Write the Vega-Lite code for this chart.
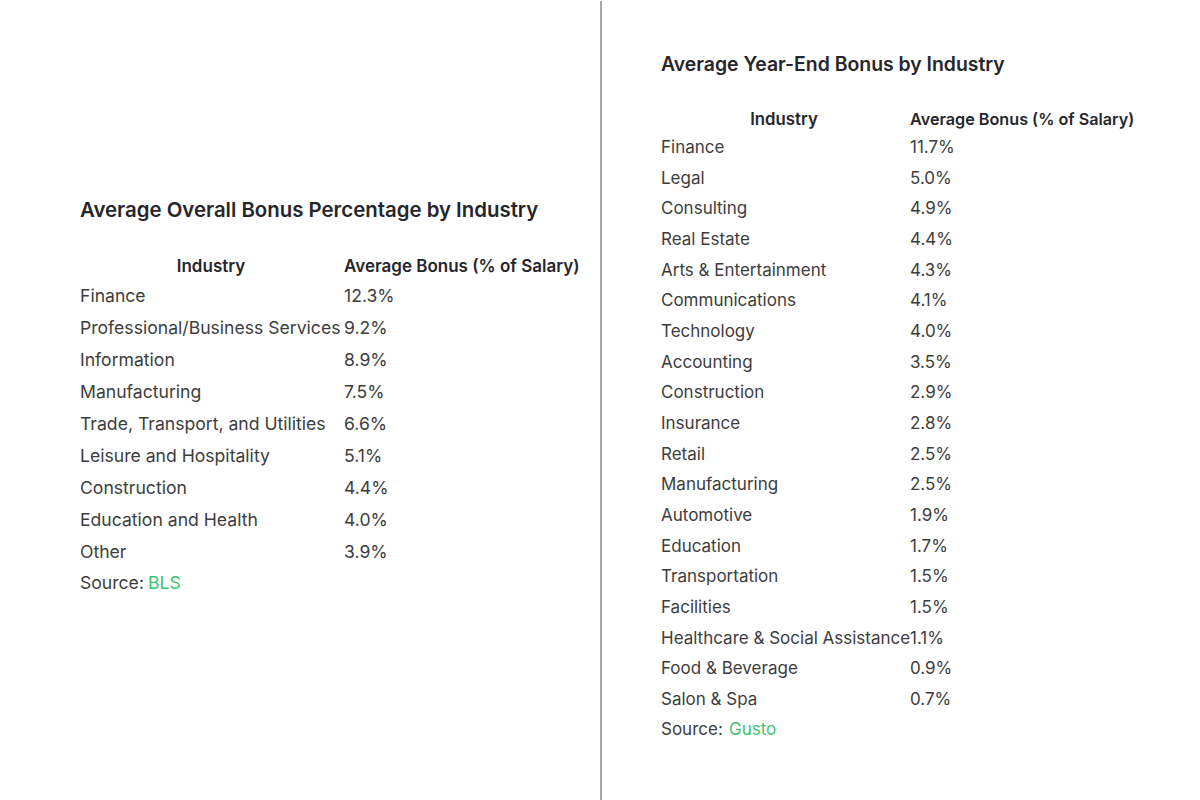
{
  "$schema": "https://vega.github.io/schema/vega-lite/v6.json",
  "padding": 0,
  "spacing": 0,
  "background": "white",
  "config": {"view": {"stroke": null}, "text": {"font": "Inter"}},
  "datasets": {
    "one": [{"id": 1}],
    "bls": [
      {"rank": 1, "industry": "Finance", "bonus": 0.123},
      {"rank": 2, "industry": "Professional/Business Services", "bonus": 0.092},
      {"rank": 3, "industry": "Information", "bonus": 0.089},
      {"rank": 4, "industry": "Manufacturing", "bonus": 0.075},
      {"rank": 5, "industry": "Trade, Transport, and Utilities", "bonus": 0.066},
      {"rank": 6, "industry": "Leisure and Hospitality", "bonus": 0.051},
      {"rank": 7, "industry": "Construction", "bonus": 0.044},
      {"rank": 8, "industry": "Education and Health", "bonus": 0.040},
      {"rank": 9, "industry": "Other", "bonus": 0.039}
    ],
    "gusto": [
      {"rank": 1, "industry": "Finance", "bonus": 0.117},
      {"rank": 2, "industry": "Legal", "bonus": 0.050},
      {"rank": 3, "industry": "Consulting", "bonus": 0.049},
      {"rank": 4, "industry": "Real Estate", "bonus": 0.044},
      {"rank": 5, "industry": "Arts & Entertainment", "bonus": 0.043},
      {"rank": 6, "industry": "Communications", "bonus": 0.041},
      {"rank": 7, "industry": "Technology", "bonus": 0.040},
      {"rank": 8, "industry": "Accounting", "bonus": 0.035},
      {"rank": 9, "industry": "Construction", "bonus": 0.029},
      {"rank": 10, "industry": "Insurance", "bonus": 0.028},
      {"rank": 11, "industry": "Retail", "bonus": 0.025},
      {"rank": 12, "industry": "Manufacturing", "bonus": 0.025},
      {"rank": 13, "industry": "Automotive", "bonus": 0.019},
      {"rank": 14, "industry": "Education", "bonus": 0.017},
      {"rank": 15, "industry": "Transportation", "bonus": 0.015},
      {"rank": 16, "industry": "Facilities", "bonus": 0.015},
      {"rank": 17, "industry": "Healthcare & Social Assistance", "bonus": 0.011},
      {"rank": 18, "industry": "Food & Beverage", "bonus": 0.009},
      {"rank": 19, "industry": "Salon & Spa", "bonus": 0.007}
    ]
  },
  "hconcat": [
    {
      "width": 602,
      "height": 800,
      "layer": [
        {
          "data": {"name": "bls"},
          "mark": {"type": "text", "align": "left", "fontSize": 17.6, "fill": "#3d3d3d"},
          "encoding": {
            "x": {"datum": 80, "type": "quantitative", "axis": null, "scale": {"domain": [0, 602], "nice": false, "zero": false}},
            "y": {"field": "rank", "type": "quantitative", "axis": null,
                  "scale": {"domain": [-8.25, 16.75], "reverse": true, "nice": false, "zero": false}},
            "text": {"field": "industry"}
          }
        },
        {
          "data": {"name": "bls"},
          "mark": {"type": "text", "align": "left", "fontSize": 17.6, "fill": "#3d3d3d"},
          "encoding": {
            "x": {"datum": 344, "type": "quantitative"},
            "y": {"field": "rank", "type": "quantitative"},
            "text": {"field": "bonus", "format": ".1%"}
          }
        },
        {
          "data": {"name": "one"},
          "mark": {"type": "rule", "stroke": "#8a8a8a", "strokeWidth": 1.5},
          "encoding": {
            "x": {"datum": 601, "type": "quantitative"},
            "y": {"datum": -8.25, "type": "quantitative"},
            "y2": {"datum": 16.75}
          }
        },
        {
          "data": {"name": "one"},
          "mark": {"type": "text", "align": "left", "fontSize": 20.4, "fontWeight": 600, "fill": "#26262b"},
          "encoding": {
            "x": {"datum": 80, "type": "quantitative"},
            "y": {"datum": -1.69, "type": "quantitative"},
            "text": {"value": "Average Overall Bonus Percentage by Industry"}
          }
        },
        {
          "data": {"name": "one"},
          "mark": {"type": "text", "align": "center", "fontSize": 17, "fontWeight": 600, "fill": "#26262b"},
          "encoding": {
            "x": {"datum": 211, "type": "quantitative"},
            "y": {"datum": 0.06, "type": "quantitative"},
            "text": {"value": "Industry"}
          }
        },
        {
          "data": {"name": "one"},
          "mark": {"type": "text", "align": "left", "fontSize": 17, "fontWeight": 600, "fill": "#26262b"},
          "encoding": {
            "x": {"datum": 344, "type": "quantitative"},
            "y": {"datum": 0.06, "type": "quantitative"},
            "text": {"value": "Average Bonus (% of Salary)"}
          }
        },
        {
          "data": {"name": "one"},
          "mark": {"type": "text", "align": "left", "fontSize": 17.6, "fill": "#3d3d3d"},
          "encoding": {
            "x": {"datum": 80, "type": "quantitative"},
            "y": {"datum": 9.97, "type": "quantitative"},
            "text": {"value": "Source:"}
          }
        },
        {
          "data": {"name": "one"},
          "mark": {"type": "text", "align": "left", "fontSize": 17.6, "fill": "#3ec46d"},
          "encoding": {
            "x": {"datum": 148, "type": "quantitative"},
            "y": {"datum": 9.97, "type": "quantitative"},
            "text": {"value": "BLS"}
          }
        }
      ]
    },
    {
      "width": 598,
      "height": 800,
      "layer": [
        {
          "data": {"name": "gusto"},
          "mark": {"type": "text", "align": "left", "fontSize": 17, "fill": "#3d3d3d"},
          "encoding": {
            "x": {"datum": 59, "type": "quantitative", "axis": null, "scale": {"domain": [0, 598], "nice": false, "zero": false}},
            "y": {"field": "rank", "type": "quantitative", "axis": null,
                  "scale": {"domain": [-3.7935, 22.2935], "reverse": true, "nice": false, "zero": false}},
            "text": {"field": "industry"}
          }
        },
        {
          "data": {"name": "gusto"},
          "mark": {"type": "text", "align": "left", "fontSize": 17, "fill": "#3d3d3d"},
          "encoding": {
            "x": {"datum": 308, "type": "quantitative"},
            "y": {"field": "rank", "type": "quantitative"},
            "text": {"field": "bonus", "format": ".1%"}
          }
        },
        {
          "data": {"name": "one"},
          "mark": {"type": "text", "align": "left", "fontSize": 19.4, "fontWeight": 600, "fill": "#26262b"},
          "encoding": {
            "x": {"datum": 59, "type": "quantitative"},
            "y": {"datum": -1.706, "type": "quantitative"},
            "text": {"value": "Average Year-End Bonus by Industry"}
          }
        },
        {
          "data": {"name": "one"},
          "mark": {"type": "text", "align": "center", "fontSize": 16.8, "fontWeight": 600, "fill": "#26262b"},
          "encoding": {
            "x": {"datum": 182, "type": "quantitative"},
            "y": {"datum": 0.09, "type": "quantitative"},
            "text": {"value": "Industry"}
          }
        },
        {
          "data": {"name": "one"},
          "mark": {"type": "text", "align": "left", "fontSize": 16.2, "fontWeight": 600, "fill": "#26262b"},
          "encoding": {
            "x": {"datum": 308, "type": "quantitative"},
            "y": {"datum": 0.09, "type": "quantitative"},
            "text": {"value": "Average Bonus (% of Salary)"}
          }
        },
        {
          "data": {"name": "one"},
          "mark": {"type": "text", "align": "left", "fontSize": 17, "fill": "#3d3d3d"},
          "encoding": {
            "x": {"datum": 59, "type": "quantitative"},
            "y": {"datum": 19.98, "type": "quantitative"},
            "text": {"value": "Source:"}
          }
        },
        {
          "data": {"name": "one"},
          "mark": {"type": "text", "align": "left", "fontSize": 17, "fill": "#3ec46d"},
          "encoding": {
            "x": {"datum": 127, "type": "quantitative"},
            "y": {"datum": 19.98, "type": "quantitative"},
            "text": {"value": "Gusto"}
          }
        }
      ]
    }
  ]
}
